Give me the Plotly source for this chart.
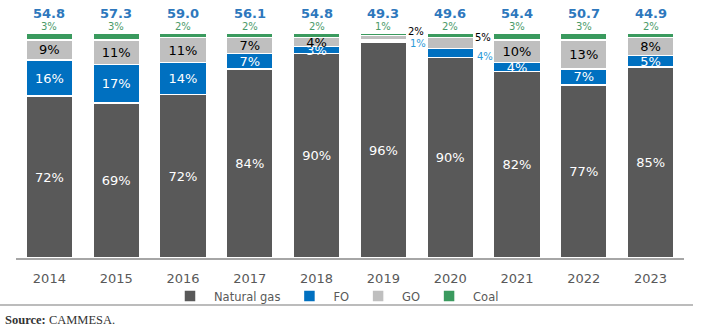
import plotly.graph_objects as go

# Thermal generation fuel mix (share of fuel consumption, %) and total per year
years = ["2014", "2015", "2016", "2017", "2018", "2019", "2020", "2021", "2022", "2023"]
natural_gas = [72, 69, 72, 84, 90, 96, 90, 82, 77, 85]
fo = [16, 17, 14, 7, 3, 1, 4, 4, 7, 5]
go_oil = [9, 11, 11, 7, 4, 2, 5, 10, 13, 8]
coal = [3, 3, 2, 2, 2, 1, 2, 3, 3, 2]
totals = [54.8, 57.3, 59.0, 56.1, 54.8, 49.3, 49.6, 54.4, 50.7, 44.9]

# years whose thin FO/GO segments get their labels beside the bar
side_label_years = ["2019", "2020"]

C_GAS = "#595959"
C_FO = "#0070C0"
C_GO = "#BFBFBF"
C_COAL = "#3A9A5E"
FONT = "DejaVu Sans"

def inside_text(values):
    return [f"{v}%" if y not in side_label_years else "" for y, v in zip(years, values)]

fig = go.Figure()
series = [
    ("Natural gas", natural_gas, C_GAS, [f"{v}%" for v in natural_gas], "white"),
    ("FO", fo, C_FO, inside_text(fo), "white"),
    ("GO", go_oil, C_GO, inside_text(go_oil), "black"),
    ("Coal", coal, C_COAL, ["" for _ in coal], "white"),
]
for name, vals, color, txt, tcolor in series:
    fig.add_trace(go.Bar(
        x=years, y=vals, name=name,
        marker=dict(color=color, line=dict(color="white", width=1.5)),
        text=txt, textposition="inside", insidetextanchor="middle",
        constraintext="none", textangle=0,
        insidetextfont=dict(family=FONT, size=13, color=tcolor),
        hoverinfo="skip",
    ))

# cumulative shares, normalised the same way as barnorm="percent"
annotations = []
for i, y in enumerate(years):
    s = natural_gas[i] + fo[i] + go_oil[i] + coal[i]
    base_fo = natural_gas[i] / s * 100
    base_go = (natural_gas[i] + fo[i]) / s * 100
    top = 100.0
    # total above the bar
    annotations.append(dict(x=i, y=top, xref="x", yref="y", text=f"<b>{totals[i]:.1f}</b>",
                            showarrow=False, yanchor="middle", yshift=20, borderpad=0,
                            font=dict(family=FONT, size=13, color="#2E78BD")))
    # coal share just above the bar
    annotations.append(dict(x=i, y=top, xref="x", yref="y", text=f"{coal[i]}%",
                            showarrow=False, yanchor="middle", yshift=7, borderpad=0,
                            font=dict(family=FONT, size=10, color="#4A9A68")))
    if y in side_label_years:
        go_mid = base_go + go_oil[i] / s * 100 / 2
        fo_mid = base_fo + fo[i] / s * 100 / 2
        annotations.append(dict(x=i, y=go_mid, xref="x", yref="y", text=f"{go_oil[i]}%",
                                showarrow=False, xanchor="left", yanchor="middle",
                                xshift=24, yshift=6, borderpad=0,
                                font=dict(family=FONT, size=10, color="black")))
        annotations.append(dict(x=i, y=fo_mid, xref="x", yref="y", text=f"{fo[i]}%",
                                showarrow=False, xanchor="left", yanchor="middle",
                                xshift=26, yshift=-3, borderpad=0,
                                font=dict(family=FONT, size=10, color="#2A9AD8")))

PLOT_W = 701 - 16 - 17
PLOT_H = 327 - 33 - 69

annotations.append(dict(
    x=(3 - 16) / PLOT_W, y=(258 - 320) / PLOT_H, xref="paper", yref="paper",
    text="<b>Source:</b> CAMMESA.", showarrow=False, xanchor="left", yanchor="middle",
    font=dict(family="Liberation Serif", size=12.5, color="#333333"),
))

fig.update_layout(
    width=701, height=327,
    margin=dict(l=16, r=17, t=33, b=69),
    paper_bgcolor="white", plot_bgcolor="white",
    barmode="stack", barnorm="percent", bargap=0.3,
    showlegend=True,
    legend=dict(
        orientation="h", traceorder="normal",
        x=(166 - 16) / PLOT_W, xanchor="left",
        y=(258 - 296) / PLOT_H, yanchor="middle",
        font=dict(family=FONT, size=11.5, color="#595959"),
        itemwidth=38, bgcolor="rgba(0,0,0,0)",
    ),
    xaxis=dict(
        type="category", categoryorder="array", categoryarray=years,
        range=[-0.5, len(years) - 0.5],
        showgrid=False, showline=True, linecolor="#A6A6A6", linewidth=1.5,
        ticks="outside", ticklen=8, tickcolor="rgba(0,0,0,0)",
        tickfont=dict(family=FONT, size=13, color="#595959"),
    ),
    yaxis=dict(range=[0, 100], visible=False, showgrid=False),
    annotations=annotations,
    shapes=[dict(type="line", xref="paper", yref="paper",
                 x0=(0 - 16) / PLOT_W, x1=(693 - 16) / PLOT_W,
                 y0=(258 - 305) / PLOT_H, y1=(258 - 305) / PLOT_H,
                 line=dict(color="#A6A6A6", width=1.5))],
)

fig.write_html("out.html")
